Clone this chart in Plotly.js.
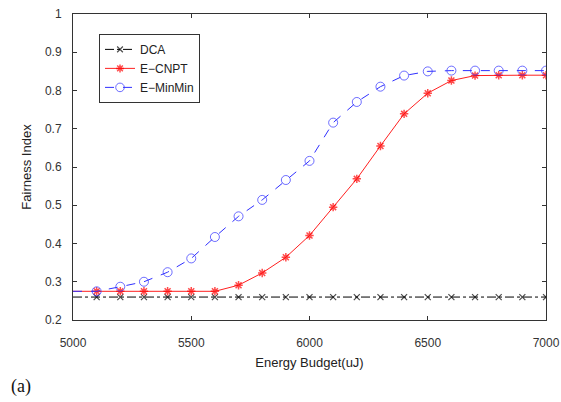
<!DOCTYPE html>
<html><head><meta charset="utf-8">
<script src="https://cdn.plot.ly/plotly-3.0.1.min.js"></script>
<style>html,body{margin:0;padding:0;background:#fff}#chart{width:561px;height:402px}</style>
</head><body><div id="chart"></div>
<script>
const budget = [5000,5100,5200,5300,5400,5500,5600,5700,5800,5900,6000,6100,6200,6300,6400,6500,6600,6700,6800,6900,7000];
const dca = [0.26,0.26,0.26,0.26,0.26,0.26,0.26,0.26,0.26,0.26,0.26,0.26,0.26,0.26,0.26,0.26,0.26,0.26,0.26,0.26,0.26];
const ecnpt = [0.275,0.275,0.275,0.275,0.275,0.275,0.275,0.291,0.323,0.364,0.421,0.495,0.569,0.655,0.739,0.793,0.826,0.839,0.84,0.84,0.84];
const eminmin = [0.275,0.275,0.287,0.300,0.325,0.361,0.417,0.471,0.514,0.566,0.616,0.716,0.770,0.810,0.839,0.850,0.852,0.852,0.852,0.852,0.852];
const yTicks = [0.2,0.3,0.4,0.5,0.6,0.7,0.8,0.9,1];
const yTickText = ['0.2','0.3','0.4','0.5','0.6','0.7','0.8','0.9','1'];
const xTicks = [5000,5500,6000,6500,7000];

function sizes(s){ return budget.map((b,i)=> i===0 ? 0 : s); }

const traces = [
  {x:budget, y:dca, name:'DCA', mode:'lines+markers',
   line:{color:'#000', width:1, dash:'dashdot'},
   marker:{symbol:'x-thin-open', size:sizes(6), color:'#000', line:{color:'#000', width:1.2}}},
  {x:budget, y:ecnpt, name:'E\u2212CNPT', mode:'lines+markers',
   line:{color:'#ff2020', width:1},
   marker:{symbol:'asterisk-open', size:sizes(7), color:'#ff0000', line:{color:'#ff0000', width:1.5}}},
  {x:budget, y:eminmin, name:'E\u2212MinMin', mode:'lines+markers',
   line:{color:'#3030ff', width:1, dash:'dash'},
   marker:{symbol:'circle-open', size:sizes(9), color:'#3030ff', line:{color:'#3030ff', width:1}}}
];

const layout = {
  width:561, height:402,
  margin:{l:73, r:15, t:14, b:82},
  paper_bgcolor:'#fff', plot_bgcolor:'#fff',
  font:{family:'Liberation Sans, Arial, sans-serif', size:12, color:'#333'},
  showlegend:true,
  legend:{x:0.055, y:0.935, xanchor:'left', yanchor:'top', bordercolor:'#333', borderwidth:1,
          bgcolor:'#fff', font:{size:12, color:'#222'}, tracegroupgap:0, itemwidth:30},
  xaxis:{range:[5000,7000], tickvals:xTicks, ticks:'inside', ticklen:4, tickcolor:'#333',
         ticklabelstandoff:12,
         mirror:'ticks', showline:true, linecolor:'#333', linewidth:1, showgrid:false, zeroline:false,
         title:{text:'Energy Budget(uJ)', font:{size:13, color:'#222'}, standoff:8}},
  yaxis:{range:[0.2,1], tickvals:yTicks, ticktext:yTickText, ticks:'inside', ticklen:4, tickcolor:'#333',
         ticklabelstandoff:8,
         mirror:'ticks', showline:true, linecolor:'#333', linewidth:1, showgrid:false, zeroline:false,
         title:{text:'Fairness Index', font:{size:13, color:'#222'}, standoff:10}},
  annotations:[{text:'(a)', xref:'paper', yref:'paper', x:-0.135, y:-0.175, xanchor:'left', yanchor:'top',
    showarrow:false, font:{family:'Liberation Serif, Times New Roman, serif', size:18, color:'#111'}}]
};
Plotly.newPlot('chart', traces, layout, {displayModeBar:false, staticPlot:true});
</script></body></html>
